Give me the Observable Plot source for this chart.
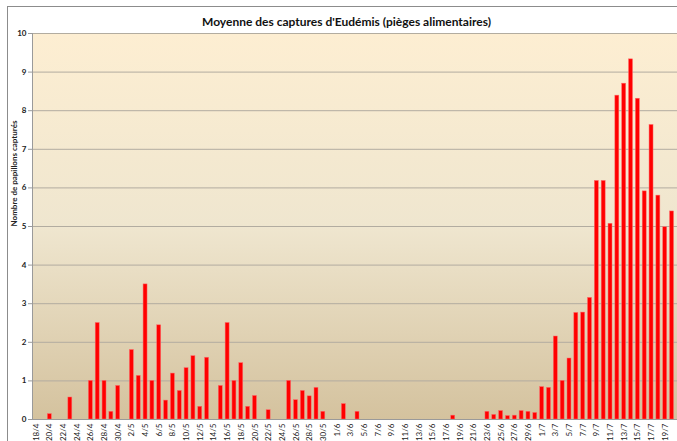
<!DOCTYPE html>
<html><head><meta charset="utf-8">
<script src="https://cdn.jsdelivr.net/npm/d3@7"></script>
<script src="https://cdn.jsdelivr.net/npm/@observablehq/plot@0.6"></script>
<style>
body{margin:0;background:#fff;}
#wrap{position:relative;width:677px;height:441px;overflow:hidden;font-family:Lato,sans-serif;}
#border{position:absolute;left:7px;top:6px;width:720px;height:480px;border:1px solid #8c8c8c;box-sizing:border-box;}
#title{position:absolute;left:8px;width:677px;top:14px;text-align:center;font-weight:bold;font-size:12px;font-family:Lato,sans-serif;color:#111;}
#chart{position:absolute;left:0;top:0;}
</style></head><body>
<div id="wrap"><div id="border"></div><div id="chart"></div><div id="title">Moyenne des captures d'Eudémis (pièges alimentaires)</div></div>
<script>
const dates = [
  "18/4","19/4","20/4","21/4","22/4","23/4","24/4","25/4","26/4","27/4","28/4","29/4","30/4",
  "1/5","2/5","3/5","4/5","5/5","6/5","7/5","8/5","9/5","10/5","11/5","12/5","13/5","14/5","15/5","16/5","17/5","18/5","19/5","20/5","21/5","22/5","23/5","24/5","25/5","26/5","27/5","28/5","29/5","30/5","31/5",
  "1/6","2/6","3/6","4/6","5/6","6/6","7/6","8/6","9/6","10/6","11/6","12/6","13/6","14/6","15/6","16/6","17/6","18/6","19/6","20/6","21/6","22/6","23/6","24/6","25/6","26/6","27/6","28/6","29/6","30/6",
  "1/7","2/7","3/7","4/7","5/7","6/7","7/7","8/7","9/7","10/7","11/7","12/7","13/7","14/7","15/7","16/7","17/7","18/7","19/7","20/7"
];
const captures = [
  0,0,0.14,0,0,0.57,0,0,1.0,2.5,1.0,0.2,0.87,
  0,1.8,1.13,3.5,1.0,2.44,0.49,1.19,0.74,1.33,1.64,0.33,1.6,0,0.87,2.5,1.0,1.46,0.33,0.61,0,0.24,0,0,1.0,0.5,0.74,0.6,0.82,0.2,0,
  0,0.4,0,0.2,0,0,0,0,0,0,0,0,0,0,0,0,0,0.1,0,0,0,0,0.2,0.12,0.22,0.09,0.1,0.22,0.2,0.17,
  0.84,0.82,2.15,1.0,1.58,2.76,2.77,3.15,6.18,6.18,5.07,8.39,8.7,9.33,8.31,5.91,7.63,5.8,4.98,5.39
];
const yTicks = [0,1,2,3,4,5,6,7,8,9,10];
const xTickLabels = dates.filter((d, i) => i % 2 === 0);
const yLabel = "Nombre de papillons capturés";

const data = dates.map((d, i) => ({date: d, value: captures[i]}));

const plot = Plot.plot({
  width: 677, height: 441,
  marginLeft: 32, marginRight: 0, marginTop: 33, marginBottom: 22,
  style: {background: "transparent", fontFamily: "Lato, sans-serif", fontSize: "8px", color: "#222", overflow: "visible"},
  x: {type: "band", domain: dates, range: [30.8, 676.4], padding: 0.42, axis: null},
  y: {domain: [0, 10], axis: null},
  marks: [
    Plot.frame({fill: "url(#bgGrad)", stroke: null}),
    Plot.gridY(yTicks.filter(d => d > 0), {stroke: "#b2aca0", strokeOpacity: 1, strokeWidth: 1}),
    Plot.barY(data, {x: "date", y: "value", fill: "#ff0000", stroke: "#ff6a6a", strokeWidth: 0.5}),
    Plot.ruleY([0], {stroke: "#9a9a9a"}),
    Plot.frame({anchor: "left", stroke: "#9a9a9a"}),
    Plot.axisY(yTicks, {tickSize: 4, tickPadding: 2, fontWeight: "bold", stroke: "#9a9a9a", label: null}),
    Plot.axisX(xTickLabels, {tickRotate: -90, tickSize: 0, tickPadding: 4, label: null}),
    Plot.text([yLabel], {frameAnchor: "left", dx: -18, rotate: -90, fontWeight: "bold", fontSize: 8})
  ]
});

const svg = d3.select(plot);
const grad = svg.insert("defs", ":first-child").append("linearGradient")
  .attr("id", "bgGrad").attr("x1", 0).attr("y1", 0).attr("x2", 0).attr("y2", 1);
grad.append("stop").attr("offset", "0%").attr("stop-color", "#fdeed2");
grad.append("stop").attr("offset", "50%").attr("stop-color", "#efe6cf");
grad.append("stop").attr("offset", "100%").attr("stop-color", "#d4c29e");

document.getElementById("chart").appendChild(plot);
</script>
</body></html>
